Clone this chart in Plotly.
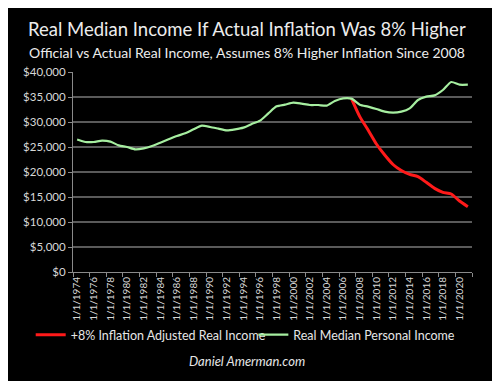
import plotly.graph_objects as go

years = list(range(1974, 2022))
labels = [f"1/1/{y}" for y in years]

real_median = [26500, 26000, 26000, 26270, 26070, 25330, 25000, 24530, 24730, 25200,
               25870, 26530, 27200, 27730, 28530, 29270, 29000, 28670, 28330, 28530,
               28870, 29600, 30270, 31730, 33130, 33470, 33870, 33670, 33400, 33400,
               33270, 34200, 34730, 34670, 33470, 33070, 32600, 32070, 31870, 32070,
               32730, 34400, 35070, 35330, 36400, 38000, 37470, 37470]

adjusted = [None] * 33 + [34670, 31070, 28400, 25600, 23400, 21500, 20300, 19530,
                          19070, 17930, 16730, 15930, 15600, 14200, 13070]

x = list(range(len(years)))
font = "Lato, 'Open Sans', sans-serif"

fig = go.Figure()
fig.add_trace(go.Scatter(x=x, y=adjusted, mode="lines", name="+8% Inflation Adjusted Real Income",
                         line=dict(color="#ff1a1a", width=3, shape="spline", smoothing=0.6),
                         connectgaps=False, legend="legend"))
fig.add_trace(go.Scatter(x=x, y=real_median, mode="lines", name="Real Median Personal Income",
                         line=dict(color="#a6eea0", width=2.2, shape="spline", smoothing=0.6),
                         legend="legend2"))
# invisible trace on second axis for boundary tick marks
fig.add_trace(go.Scatter(x=[x[0]], y=[None], xaxis="x2", showlegend=False, hoverinfo="skip"))

even_idx = [i for i in x if i % 2 == 0]
legend_font = dict(size=12.5, color="#e6e6e6")
cx = 0.437
fig.update_layout(
    width=484, height=373,
    paper_bgcolor="#000000", plot_bgcolor="#000000",
    margin=dict(l=64.5, r=20.3, t=64, b=109),
    font=dict(family=font, color="#e0e0e0"),
    xaxis=dict(range=[-0.5, 47.5], tickvals=even_idx, ticktext=[labels[i] for i in even_idx],
               tickangle=-90, tickfont=dict(size=10, color="#d8d8d8"), ticks="",
               showgrid=False, zeroline=False, showline=True, linecolor="#8a8a8a", linewidth=1),
    xaxis2=dict(range=[-0.5, 47.5], overlaying="x", anchor="y", side="bottom",
                tickvals=[i - 0.5 for i in range(0, 50, 2)], ticks="outside", ticklen=4,
                tickcolor="#8a8a8a", showticklabels=False, showgrid=False, zeroline=False),
    yaxis=dict(range=[0, 40000], dtick=5000, tickprefix="$", tickformat=",d",
               tickfont=dict(size=11.5, color="#d8d8d8"), gridcolor="#5a5a5a", gridwidth=1.5,
               ticks="outside", ticklen=4, tickcolor="#8a8a8a", showline=True,
               linecolor="#8a8a8a", linewidth=1, zeroline=False),
    legend=dict(orientation="h", x=-0.106, xanchor="left", y=-0.315, yanchor="middle",
                font=legend_font, bgcolor="rgba(0,0,0,0)"),
    legend2=dict(orientation="h", x=0.452, xanchor="left", y=-0.315, yanchor="middle",
                 font=legend_font, bgcolor="rgba(0,0,0,0)"),
    showlegend=True,
    annotations=[
        dict(text="Real Median Income If Actual Inflation Was 8% Higher", xref="paper", yref="paper",
             x=cx, y=1.0, yanchor="middle", yshift=43, showarrow=False,
             font=dict(size=18.5, color="#ececec")),
        dict(text="Official vs Actual Real Income, Assumes 8% Higher Inflation Since 2008",
             xref="paper", yref="paper", x=cx, y=1.0, yanchor="middle", yshift=20, showarrow=False,
             font=dict(size=14, color="#ececec")),
        dict(text="<i>Daniel Amerman.com</i>", xref="paper", yref="paper", x=cx, y=0,
             yanchor="middle", yshift=-89, showarrow=False, font=dict(size=13, color="#e6e6e6")),
    ],
)

fig.write_html("out.html")
